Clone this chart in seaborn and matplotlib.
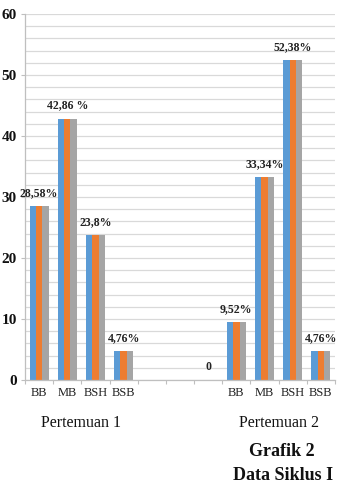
import numpy as np
import pandas as pd
import matplotlib
matplotlib.use("Agg")
import matplotlib.pyplot as plt
from matplotlib.ticker import MultipleLocator, FixedLocator
import seaborn as sns

# ---- data ----
group_names = ["Pertemuan 1", "Pertemuan 2"]
p1_categories = ["BB", "MB", "BSH", "BSB"]
p1_values = [28.58, 42.86, 23.8, 4.76]
p1_labels = ["28,58%", "42,86 %", "23,8%", "4,76%"]
p2_categories = ["", "BB", "MB", "BSH", "BSB"]
p2_values = [0, 9.52, 33.34, 52.38, 4.76]
p2_labels = ["0", "9,52%", "33,34%", "52,38%", "4,76%"]
series_names = ["Series 1", "Series 2", "Series 3"]
series_colors = ["#5B9BD5", "#ED7D31", "#A5A5A5"]
title_lines = ["Grafik 2", "Data Siklus I"]

# slot layout: group1 (4), two empty slots, group2 (5)
slot_cats = p1_categories + ["", ""] + p2_categories
slot_vals = p1_values + [None, None] + p2_values
slot_labels = p1_labels + [None, None] + p2_labels
slot_keys = [f"s{i}" for i in range(len(slot_cats))]

rows = []
for key, v in zip(slot_keys, slot_vals):
    if v is None:
        continue
    for s in series_names:
        rows.append({"slot": key, "series": s, "value": v})
df = pd.DataFrame(rows)

sns.set_theme(style="white")
plt.rcParams["font.family"] = ["Liberation Serif", "DejaVu Serif"]

fig = plt.figure(figsize=(3.56, 4.88), dpi=100)
ax = fig.add_axes([25/356, 108/488, 310/356, 366/488])

sns.barplot(data=df, x="slot", y="value", hue="series", order=slot_keys,
            hue_order=series_names, palette=series_colors, width=0.68,
            gap=0, saturation=1, linewidth=0, legend=False, ax=ax, errorbar=None)

ax.set_xlim(-0.5, len(slot_keys) - 0.5)
ax.set_ylim(0, 60)
ax.yaxis.set_major_locator(MultipleLocator(10))
ax.yaxis.set_minor_locator(MultipleLocator(2))
ax.grid(which="both", axis="y", color="#d9d9d9", linewidth=0.9)
ax.set_axisbelow(True)

ax.set_xticks(range(len(slot_keys)))
ax.set_xticklabels(slot_cats, fontsize=9)
ax.xaxis.set_minor_locator(FixedLocator(np.arange(-0.5, len(slot_keys), 1.0)))
ax.tick_params(axis="x", which="major", length=0, pad=5, colors="#222222")
ax.tick_params(axis="x", which="minor", length=3, width=0.8, color="#bfbfbf", bottom=True)
ax.tick_params(axis="y", which="major", length=3, width=0.8, color="#bfbfbf", left=True, pad=3)
ax.tick_params(axis="y", which="minor", length=0)
for lab in ax.get_yticklabels():
    lab.set_fontweight("bold")
    lab.set_fontsize(11)
    lab.set_color("#111111")

ax.set_xlabel("")
ax.set_ylabel("")
for side in ["top", "right"]:
    ax.spines[side].set_visible(False)
for side in ["left", "bottom"]:
    ax.spines[side].set_color("#bfbfbf")
    ax.spines[side].set_linewidth(0.9)

for i, (v, lab) in enumerate(zip(slot_vals, slot_labels)):
    if v is None:
        continue
    ax.annotate(lab, (i, v), xytext=(0, 5), textcoords="offset points",
                ha="center", va="bottom", fontsize=8.5, fontweight="bold",
                color="#222222")

# group labels
n1 = len(p1_categories)
n2 = len(p2_categories)
g1_center = (n1 - 1) / 2
g2_center = len(slot_keys) - n2 + 1 + (n2 - 2) / 2
for name, cx in zip(group_names, [g1_center, g2_center]):
    xf = fig.transFigure.inverted().transform(ax.transData.transform((cx, 0)))[0]
    fig.text(xf, 1 - 423/488, name, ha="center", va="center", fontsize=11.5,
             color="#111111")

fig.text(282/356, 1 - 451/488, title_lines[0], ha="center", va="center",
         fontsize=13, fontweight="bold", color="#111111")
fig.text(283/356, 1 - 475/488, title_lines[1], ha="center", va="center",
         fontsize=13, fontweight="bold", color="#111111")

fig.savefig("out.png", dpi=100)
